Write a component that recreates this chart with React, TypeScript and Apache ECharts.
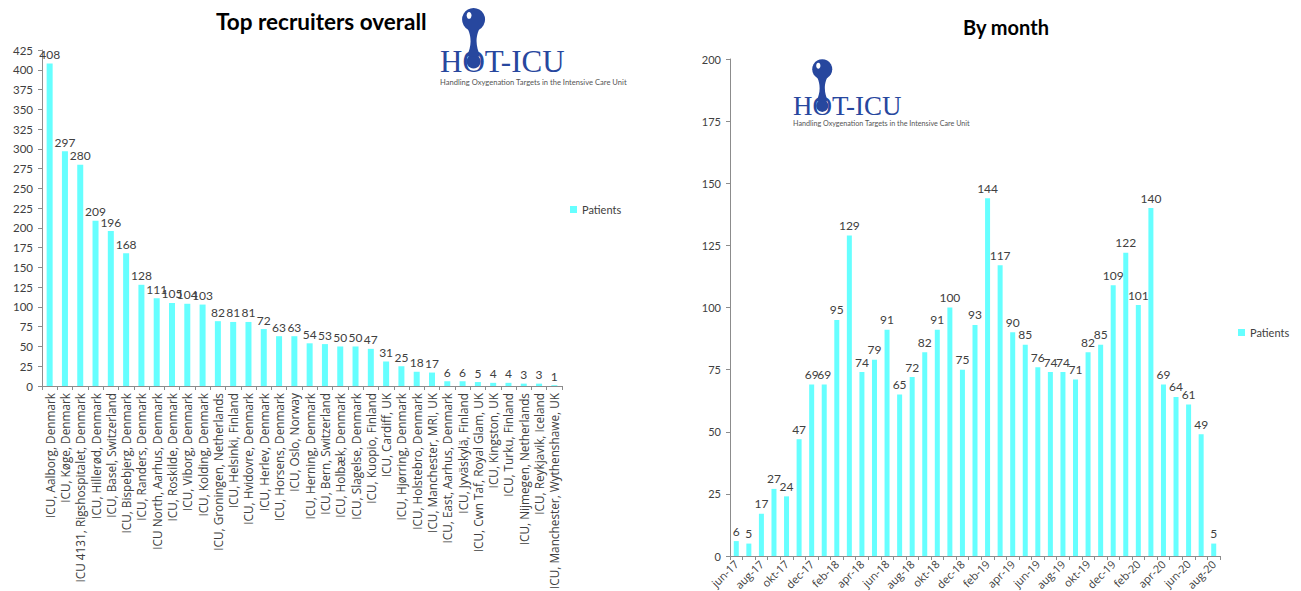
import React, { useEffect, useRef } from "react";
import * as echarts from "echarts";

const recruiters = [
  "ICU, Aalborg, Denmark",
  "ICU, Køge, Denmark",
  "ICU 4131, Rigshospitalet, Denmark",
  "ICU, Hillerød, Denmark",
  "ICU, Basel, Switzerland",
  "ICU, Bispebjerg, Denmark",
  "ICU, Randers, Denmark",
  "ICU North, Aarhus, Denmark",
  "ICU, Roskilde, Denmark",
  "ICU, Viborg, Denmark",
  "ICU, Kolding, Denmark",
  "ICU, Groningen, Netherlands",
  "ICU, Helsinki, Finland",
  "ICU, Hvidovre, Denmark",
  "ICU, Herlev, Denmark",
  "ICU, Horsens, Denmark",
  "ICU, Oslo, Norway",
  "ICU, Herning, Denmark",
  "ICU, Bern, Switzerland",
  "ICU, Holbæk, Denmark",
  "ICU, Slagelse, Denmark",
  "ICU, Kuopio, Finland",
  "ICU, Cardiff, UK",
  "ICU, Hjørring, Denmark",
  "ICU, Holstebro, Denmark",
  "ICU, Manchester, MRI, UK",
  "ICU, East, Aarhus, Denmark",
  "ICU, Jyväskylä, Finland",
  "ICU, Cwn Taf, Royal Glam, UK",
  "ICU, Kingston, UK",
  "ICU, Turku, Finland",
  "ICU, Nijmegen, Netherlands",
  "ICU, Reykjavik, Iceland",
  "ICU, Manchester, Wythenshawe, UK",
];
const recruiterPatients = [
  408, 297, 280, 209, 196, 168, 128, 111, 105, 104, 103, 82, 81, 81, 72, 63, 63,
  54, 53, 50, 50, 47, 31, 25, 18, 17, 6, 6, 5, 4, 4, 3, 3, 1,
];

const months = [
  "jun-17", "jul-17", "aug-17", "sep-17", "okt-17", "nov-17", "dec-17",
  "jan-18", "feb-18", "mar-18", "apr-18", "maj-18", "jun-18", "jul-18", "aug-18", "sep-18", "okt-18", "nov-18", "dec-18",
  "jan-19", "feb-19", "mar-19", "apr-19", "maj-19", "jun-19", "jul-19", "aug-19", "sep-19", "okt-19", "nov-19", "dec-19",
  "jan-20", "feb-20", "mar-20", "apr-20", "maj-20", "jun-20", "jul-20", "aug-20",
];
const monthPatients = [
  6, 5, 17, 27, 24, 47, 69, 69, 95, 129, 74, 79, 91, 65, 72, 82, 91, 100, 75, 93,
  144, 117, 90, 85, 76, 74, 74, 71, 82, 85, 109, 122, 101, 140, 69, 64, 61, 49, 5,
];

const leftTicks = { min: 0, max: 425, interval: 25 };
const rightTicks = { min: 0, max: 200, interval: 25 };

const CYAN = "#66ffff";
const TXT = "#404040";
const AXIS = "#8c8c8c";
const BLUE = "#27479e";
const FONT = "Lato, 'Noto Sans', sans-serif";
const LABEL_FONT = "'Open Sans', 'Noto Sans', sans-serif";

let registered = false;
function registerNeck() {
  if (registered) return;
  registered = true;
  echarts.graphic.registerShape(
    "logoNeck",
    echarts.graphic.extendPath(
      "M -8 5 C -3.5 13 -3 18 -3 22 C -3 27 -4.5 31 -6.5 37 L 6.5 37 C 4.5 31 3 27 3 22 C 3 18 3.5 13 8 5 Z",
      {}
    ) as any
  );
}

function logo(textLeft: number, baseline: number, fs: number, subSize: number) {
  const s = fs / 31;
  const ox = textLeft + 1.083 * fs;
  const oy = baseline - 0.34 * fs;
  const by = oy - 42 * s;
  return {
    type: "group",
    children: [
      {
        type: "text",
        x: textLeft,
        y: baseline - 0.35 * fs,
        style: {
          text: "HOT-ICU",
          font: `${fs}px 'Liberation Serif', 'DejaVu Serif', serif`,
          fill: BLUE,
          verticalAlign: "middle",
          align: "left",
        },
      },
      { type: "circle", shape: { cx: ox, cy: oy, r: 7 * s }, style: { fill: BLUE } },
      { type: "logoNeck", x: ox, y: by, scaleX: s, scaleY: s, style: { fill: BLUE } },
      { type: "circle", shape: { cx: ox, cy: by, r: 11.5 * s }, style: { fill: BLUE } },
      {
        type: "ellipse",
        shape: { cx: ox - 4.5 * s, cy: by - 4 * s, rx: 2.4 * s, ry: 3.4 * s },
        style: { fill: "#ffffff" },
      },
      {
        type: "text",
        x: textLeft,
        y: baseline + 10 * s,
        style: {
          text: "Handling Oxygenation Targets in the Intensive Care Unit",
          font: `${subSize}px ${FONT}`,
          fill: "#555555",
          verticalAlign: "middle",
          align: "left",
        },
      },
    ],
  };
}

export default function App() {
  const ref = useRef<HTMLDivElement>(null);
  useEffect(() => {
    if (!ref.current) return;
    registerNeck();
    const chart = echarts.init(ref.current, undefined, { renderer: "svg" });
    const axisCommon = {
      axisLine: { show: true, lineStyle: { color: AXIS, width: 1 } },
      axisTick: { show: true, length: 4, lineStyle: { color: AXIS } },
      splitLine: { show: false },
    };
    chart.setOption({
      animation: false,
      backgroundColor: "#ffffff",
      textStyle: { fontFamily: FONT },
      title: [
        {
          text: "Top recruiters overall",
          left: 211,
          top: 5,
          textStyle: { fontSize: 22.5, fontWeight: "bold", color: "#000", fontFamily: FONT },
        },
        {
          text: "By month",
          left: 958,
          top: 12,
          textStyle: { fontSize: 20, fontWeight: "bold", color: "#000", fontFamily: FONT },
        },
      ],
      legend: [
        {
          left: 565,
          top: 199,
          itemWidth: 7,
          itemHeight: 7,
          icon: "rect",
          data: ["Patients"],
          textStyle: { fontSize: 11, color: TXT, fontFamily: FONT },
          selectedMode: false,
        },
        {
          left: 1233,
          top: 322,
          itemWidth: 7,
          itemHeight: 7,
          icon: "rect",
          data: ["Patients"],
          textStyle: { fontSize: 11, color: TXT, fontFamily: FONT },
          selectedMode: false,
        },
      ],
      grid: [
        { left: 42, top: 50, width: 520, height: 336, containLabel: false, outerBoundsMode: "none" },
        { left: 730, top: 59, width: 490, height: 497, containLabel: false, outerBoundsMode: "none" },
      ],
      xAxis: [
        {
          type: "category",
          gridIndex: 0,
          data: recruiters,
          ...axisCommon,
          axisTick: { show: true, length: 4, alignWithLabel: false, lineStyle: { color: AXIS } },
          axisLabel: { rotate: 90, interval: 0, fontSize: 11.8, color: TXT, margin: 7, fontFamily: LABEL_FONT },
        },
        {
          type: "category",
          gridIndex: 1,
          data: months,
          ...axisCommon,
          axisTick: { show: true, length: 4, interval: 0, lineStyle: { color: AXIS } },
          axisLabel: { rotate: 45, interval: 1, fontSize: 11, color: TXT, margin: 6, fontFamily: LABEL_FONT },
        },
      ],
      yAxis: [
        {
          type: "value",
          gridIndex: 0,
          ...leftTicks,
          ...axisCommon,
          axisLabel: { fontSize: 11.5, color: TXT, margin: 9, fontFamily: FONT },
        },
        {
          type: "value",
          gridIndex: 1,
          ...rightTicks,
          ...axisCommon,
          axisLabel: { fontSize: 11, color: TXT, margin: 9, fontFamily: FONT },
        },
      ],
      series: [
        {
          name: "Patients",
          type: "bar",
          xAxisIndex: 0,
          yAxisIndex: 0,
          data: recruiterPatients,
          barWidth: 6,
          itemStyle: { color: CYAN },
          label: { show: true, position: "top", fontSize: 12, color: TXT, distance: 3, fontFamily: FONT },
        },
        {
          name: "Patients",
          type: "bar",
          xAxisIndex: 1,
          yAxisIndex: 1,
          data: monthPatients,
          barWidth: 5,
          itemStyle: { color: CYAN },
          label: { show: true, position: "top", fontSize: 12, color: TXT, distance: 4, fontFamily: FONT },
        },
      ],
      graphic: [logo(440, 72, 31, 7.6), logo(793, 115, 27, 7.2)],
    });
    return () => chart.dispose();
  }, []);
  return (
    <div
      ref={ref}
      style={{ position: "fixed", left: 0, top: 0, width: 1301, height: 591, background: "#fff" }}
    />
  );
}
